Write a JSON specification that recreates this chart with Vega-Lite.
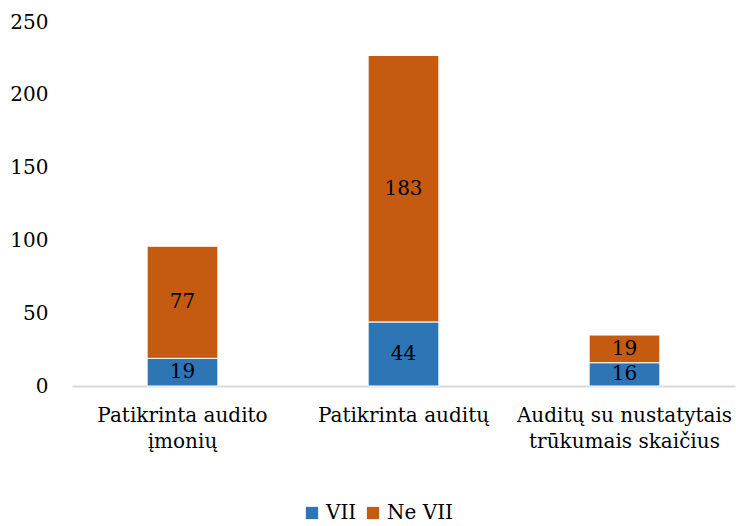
{
  "$schema": "https://vega.github.io/schema/vega-lite/v6.json",
  "autosize": {"type": "none"},
  "width": 663,
  "height": 364,
  "padding": {"left": 72, "top": 22, "right": 1, "bottom": 140},
  "background": "white",
  "config": {
    "view": {"stroke": null},
    "font": "DejaVu Serif",
    "text": {"font": "DejaVu Serif"}
  },
  "data": {
    "values": [
      {"cat": "Patikrinta audito|įmonių", "series": "VII", "o": 1, "value": 19},
      {"cat": "Patikrinta audito|įmonių", "series": "Ne VII", "o": 2, "value": 77},
      {"cat": "Patikrinta auditų", "series": "VII", "o": 1, "value": 44},
      {"cat": "Patikrinta auditų", "series": "Ne VII", "o": 2, "value": 183},
      {"cat": "Auditų su nustatytais|trūkumais skaičius", "series": "VII", "o": 1, "value": 16},
      {"cat": "Auditų su nustatytais|trūkumais skaičius", "series": "Ne VII", "o": 2, "value": 19}
    ]
  },
  "transform": [
    {"stack": "value", "groupby": ["cat"], "sort": [{"field": "o", "order": "ascending"}], "as": ["y0", "y1"]},
    {"calculate": "(datum.y0 + datum.y1) / 2", "as": "ymid"}
  ],
  "encoding": {
    "x": {
      "field": "cat",
      "type": "nominal",
      "sort": null,
      "title": null,
      "scale": {"paddingInner": 0.68, "paddingOuter": 0.34},
      "axis": {
        "labelAngle": 0,
        "labelExpr": "split(datum.label, '|')",
        "labelFont": "DejaVu Serif",
        "labelFontSize": 20,
        "labelColor": "#000000",
        "labelLineHeight": 26,
        "labelPadding": 19,
        "ticks": false,
        "domainColor": "#D9D9D9",
        "domainWidth": 2,
        "grid": false,
        "labelLimit": 300
      }
    }
  },
  "layer": [
    {
      "mark": {"type": "bar", "stroke": "white", "strokeWidth": 1},
      "encoding": {
        "y": {
          "field": "y0",
          "type": "quantitative",
          "title": null,
          "scale": {"domain": [0, 250], "nice": false},
          "axis": {
            "values": [0, 50, 100, 150, 200, 250],
            "labelFont": "DejaVu Serif",
            "labelFontSize": 20,
            "labelColor": "#000000",
            "labelPadding": 24,
            "ticks": false,
            "domain": false,
            "grid": false
          }
        },
        "y2": {"field": "y1"},
        "color": {
          "field": "series",
          "type": "nominal",
          "scale": {"domain": ["VII", "Ne VII"], "range": ["#2E75B6", "#C55A11"]},
          "legend": {
            "title": null,
            "orient": "none",
            "direction": "horizontal",
            "legendX": 230,
            "legendY": 481,
            "symbolType": "square",
            "symbolSize": 150,
            "symbolStrokeWidth": 0,
            "labelFont": "DejaVu Serif",
            "labelFontSize": 20,
            "labelColor": "#000000",
            "columnPadding": 6,
            "labelOffset": 4
          }
        }
      }
    },
    {
      "mark": {"type": "text", "fontSize": 20, "color": "#000000", "baseline": "middle", "align": "center"},
      "encoding": {
        "y": {"field": "ymid", "type": "quantitative"},
        "text": {"field": "value", "type": "quantitative"}
      }
    }
  ]
}
